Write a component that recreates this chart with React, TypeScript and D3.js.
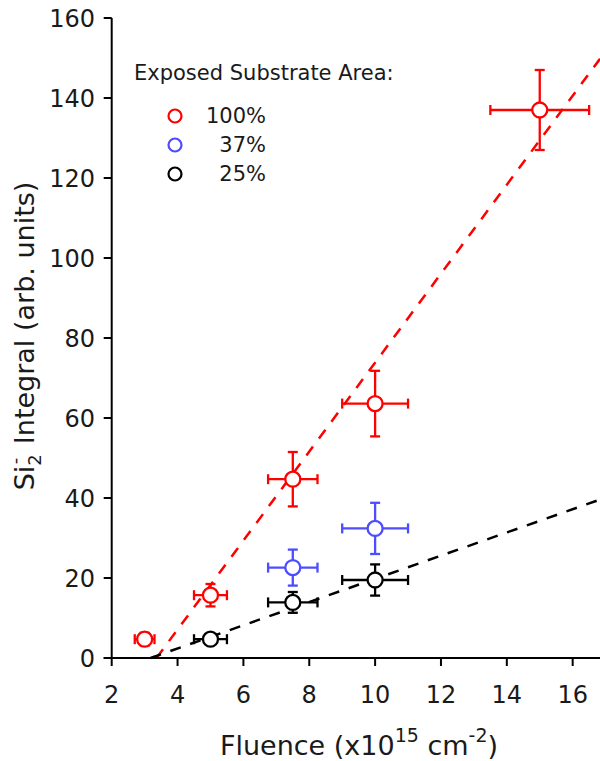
import React from "react";
import * as d3 from "d3";

const W = 600;
const H = 761;

const xTicks = [2, 4, 6, 8, 10, 12, 14, 16];
const yTicks = [0, 20, 40, 60, 80, 100, 120, 140, 160];

// series: [fluence, value, xerr, yerr]
const red100 = [
  [3, 4.7, 0.3, 1.6],
  [5, 15.7, 0.5, 2.8],
  [7.5, 44.7, 0.75, 6.8],
  [10, 63.6, 1.0, 8.2],
  [15, 137, 1.5, 10],
];
const blue37 = [
  [7.5, 22.6, 0.75, 4.5],
  [10, 32.4, 1.0, 6.4],
];
const black25 = [
  [5, 4.7, 0.5, 1.0],
  [7.5, 13.9, 0.75, 2.6],
  [10, 19.5, 1.0, 3.9],
];

const redFit = [
  [3.36, 0],
  [16.83, 149.8],
];
const blackFit = [
  [3.18, 0],
  [16.83, 39.6],
];

const legendLabels = ["100%", "37%", "25%"];
const colors = ["#ff0000", "#4d4dff", "#000000"];

export default function App() {
  const x = d3.scaleLinear().domain([2, 16.83]).range([111.7, 600]);
  const y = d3.scaleLinear().domain([0, 160]).range([658, 18]);
  const line = d3
    .line<number[]>()
    .x((d) => x(d[0]))
    .y((d) => y(d[1]));

  const font = "'DejaVu Sans', Verdana, sans-serif";
  const cap = 5;

  const renderSeries = (data: number[][], color: string, key: string) => (
    <g key={key}>
      {data.map((d, i) => {
        const cx = x(d[0]);
        const cy = y(d[1]);
        const x0 = x(d[0] - d[2]);
        const x1 = x(d[0] + d[2]);
        const y0 = y(d[1] - d[3]);
        const y1 = y(d[1] + d[3]);
        return (
          <g key={i} stroke={color} strokeWidth={2.3} fill="none">
            <line x1={x0} x2={x1} y1={cy} y2={cy} />
            <line x1={x0} x2={x0} y1={cy - cap} y2={cy + cap} />
            <line x1={x1} x2={x1} y1={cy - cap} y2={cy + cap} />
            <line x1={cx} x2={cx} y1={y0} y2={y1} />
            <line x1={cx - cap} x2={cx + cap} y1={y0} y2={y0} />
            <line x1={cx - cap} x2={cx + cap} y1={y1} y2={y1} />
            <circle cx={cx} cy={cy} r={7.5} fill="#fff" />
          </g>
        );
      })}
    </g>
  );

  return (
    <svg
      width={W}
      height={H}
      style={{ position: "absolute", left: 0, top: 0, background: "#fff" }}
      fontFamily={font}
    >
      <rect x={0} y={0} width={W} height={H} fill="#fff" />
      {/* fit lines */}
      <path d={line(redFit) || ""} stroke="#ff0000" strokeWidth={2.5} fill="none" strokeDasharray="11,10" />
      <path d={line(blackFit) || ""} stroke="#000" strokeWidth={2.5} fill="none" strokeDasharray="11,10" />

      {/* axes */}
      <g stroke="#000" strokeWidth={2}>
        <line x1={x(2)} x2={x(2)} y1={y(160)} y2={y(0)} />
        <line x1={x(2) - 8} x2={W} y1={y(0)} y2={y(0)} />
        {yTicks.map((t) => (
          <line key={t} x1={x(2) - 8} x2={x(2)} y1={y(t)} y2={y(t)} />
        ))}
        {xTicks.map((t) => (
          <line key={t} x1={x(t)} x2={x(t)} y1={y(0)} y2={y(0) + 8} />
        ))}
      </g>
      <g fontSize={24} fill="#1a1a1a">
        {yTicks.map((t) => (
          <text key={t} x={95} y={y(t) + 8.5} textAnchor="end">
            {t}
          </text>
        ))}
        {xTicks.map((t) => (
          <text key={t} x={x(t)} y={703} textAnchor="middle">
            {t}
          </text>
        ))}
      </g>

      {/* series */}
      {renderSeries(black25, colors[2], "k")}
      {renderSeries(blue37, colors[1], "b")}
      {renderSeries(red100, colors[0], "r")}

      {/* axis titles */}
      <text x={359} y={755} fontSize={27} textAnchor="middle" fill="#1a1a1a">
        Fluence (x10
        <tspan fontSize={19} dy={-13}>15</tspan>
        <tspan dy={13}> cm</tspan>
        <tspan fontSize={19} dy={-13}>-2</tspan>
        <tspan dy={13}>)</tspan>
      </text>
      <text transform="translate(34,336) rotate(-90)" fontSize={27} textAnchor="middle" fill="#1a1a1a">
        Si
        <tspan fontSize={18} dy={7}>2</tspan>
        <tspan fontSize={18} dx={-10} dy={-20}>-</tspan>
        <tspan dx={5} dy={13}> Integral (arb. units)</tspan>
      </text>

      {/* legend */}
      <text x={134} y={80} fontSize={21} fill="#1a1a1a">
        Exposed Substrate Area:
      </text>
      {legendLabels.map((l, i) => (
        <g key={l}>
          <circle cx={175} cy={116 + i * 29} r={6.5} fill="#fff" stroke={colors[i]} strokeWidth={2.2} />
          <text x={266} y={123 + i * 29} fontSize={21} textAnchor="end" fill="#1a1a1a">
            {l}
          </text>
        </g>
      ))}
    </svg>
  );
}
